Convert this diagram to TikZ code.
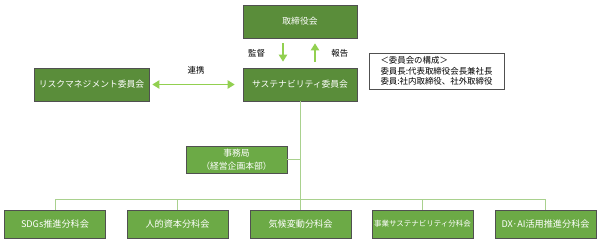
\documentclass[tikz,border=0pt]{standalone}
\usepackage{fontspec}
\setmainfont{Noto Sans CJK JP}
\usepackage{xcolor}
\usepackage{tikz}
\usetikzlibrary{arrows.meta, positioning, calc}
\definecolor{darkleaf}{RGB}{90,141,58}
\definecolor{leaf}{RGB}{108,170,70}
\definecolor{paleleaf}{RGB}{169,209,142}
\definecolor{brightleaf}{RGB}{146,208,80}
\definecolor{edgegray}{RGB}{80,80,80}

\begin{document}
\begin{tikzpicture}[x=0.03cm, y=-0.03cm, >=Stealth]
  \tikzstyle{mainbox} = [rectangle, draw=edgegray, line width=0.5pt, fill=darkleaf, text=white, minimum width=3.42cm, minimum height=0.99cm, inner sep=0pt, font=\fontsize{7.5pt}{9pt}\selectfont]
  \tikzstyle{subbox} = [rectangle, draw=edgegray, line width=0.5pt, fill=leaf, text=white, minimum width=3.03cm, minimum height=0.84cm, inner sep=0pt, font=\fontsize{7.8pt}{9pt}\selectfont]
  \tikzstyle{notebox} = [rectangle, draw=edgegray, line width=0.6pt, fill=white, align=left, minimum width=4.05cm, minimum height=1.08cm, inner sep=0pt, font=\fontsize{7.2pt}{8.8pt}\selectfont]
  \tikzstyle{feed} = [line width=0.8pt, paleleaf]
  \tikzstyle{flow} = [line width=1.4pt, brightleaf, -{Triangle[width=7pt, length=6pt]}]
  \tikzstyle{flowlabel} = [font=\fontsize{7.2pt}{9pt}\selectfont, text=black]

  \useasboundingbox (0,0) rectangle (600,242);

  \node [mainbox] (board) at (300, 21.5) {取締役会};
  \node [mainbox] (sus) at (300, 84.5) {サステナビリティ委員会};
  \node [mainbox, minimum width=3.45cm] (risk) at (91.5, 84.5) {リスクマネジメント委員会};
  \node [notebox] (members) at (436.5, 71) {＜委員会の構成＞\\委員長:代表取締役会長兼社長\\委員:社内取締役、社外取締役};
  \node [subbox, minimum height=0.81cm, align=center, font=\fontsize{7.5pt}{11pt}\selectfont] (office) at (236.5, 159.5) {事務局\\（経営企画本部）};
  \node [subbox] (sdgs) at (55, 224) {SDGs推進分科会};
  \node [subbox] (human) at (177.5, 224) {人的資本分科会};
  \node [subbox] (climate) at (300.5, 224) {気候変動分科会};
  \node [subbox, font=\fontsize{6.4pt}{8pt}\selectfont] (biz) at (422.5, 224) {事業サステナビリティ分科会};
  \node [subbox] (dx) at (545.5, 224) {DX·AI活用推進分科会};

  \coordinate (busL) at (55, 199);
  \coordinate (busR) at (545.5, 199);

  \draw[feed] (sus.south) -- (sus.south |- climate.north);
  \draw[feed] (office.east) -- (office.east -| sus.south);
  \draw[feed] (sdgs.north) -- (busL) -- (busR) -- (dx.north);
  \draw[feed] (human.north) -- (human.north |- busL);
  \draw[feed] (biz.north) -- (biz.north |- busL);

  \draw[flow, shorten <=0.15cm, shorten >=0.18cm] ([xshift=-0.51cm]board.south) -- node[flowlabel, left=0.4cm, midway] {監督} ([xshift=-0.51cm]sus.north);
  \draw[flow, shorten <=0.18cm, shorten >=0.15cm] ([xshift=0.45cm]sus.north) -- node[flowlabel, right=0.35cm, midway] {報告} ([xshift=0.45cm]board.south);
  \draw[flow, {Triangle[width=7pt, length=6pt]}-{Triangle[width=7pt, length=6pt]}, shorten <=0.09cm, shorten >=0.24cm] (risk.east) -- node[flowlabel, above=0.18cm, midway] {連携} (sus.west);
\end{tikzpicture}
\end{document}
